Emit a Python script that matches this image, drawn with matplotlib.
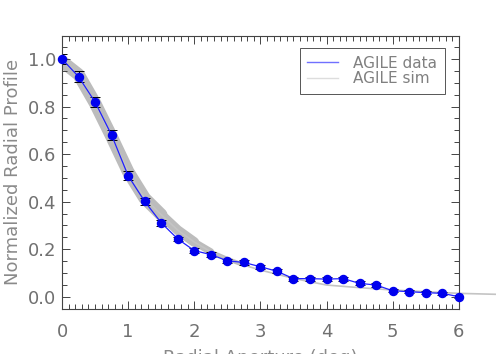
import matplotlib
matplotlib.use("Agg")
import matplotlib.pyplot as plt
import numpy as np
from matplotlib.ticker import MultipleLocator
from matplotlib.lines import Line2D

# Data
x_data = [0.0, 0.25, 0.5, 0.75, 1.0, 1.25, 1.5, 1.75, 2.0, 2.25, 2.5, 2.75,
          3.0, 3.25, 3.5, 3.75, 4.0, 4.25, 4.5, 4.75, 5.0, 5.25, 5.5, 5.75, 6.0]
y_data = [1.0, 0.926, 0.819, 0.680, 0.509, 0.401, 0.311, 0.243, 0.194, 0.177, 0.151, 0.144,
          0.126, 0.107, 0.076, 0.076, 0.074, 0.076, 0.056, 0.049, 0.025, 0.021, 0.017, 0.014, 0.0]
y_err = [0.02, 0.022, 0.022, 0.022, 0.018, 0.014, 0.012, 0.01, 0.01, 0.01, 0.009, 0.009,
         0.009, 0.009, 0.008, 0.008, 0.008, 0.008, 0.008, 0.008, 0.007, 0.007, 0.007, 0.007, 0.007]

x_sim = [0.0, 0.25, 0.5, 0.75, 1.0, 1.25, 1.5, 1.75, 2.0, 2.25, 2.5, 2.75,
         3.0, 3.5, 4.0, 4.5, 5.0, 5.5, 6.0, 6.56]
y_sim = [0.99, 0.935, 0.814, 0.673, 0.526, 0.414, 0.345, 0.28, 0.23, 0.189, 0.159, 0.133,
         0.112, 0.077, 0.049, 0.038, 0.028, 0.021, 0.014, 0.010]

x_ticks = [0, 1, 2, 3, 4, 5, 6]
y_ticks = [0.0, 0.2, 0.4, 0.6, 0.8, 1.0]

fig = plt.figure(figsize=(4.96, 3.54), dpi=100)
ax = fig.add_axes([0.125, 0.127, 0.8, 0.772])

band = '#bcbcbc'
for n, w in [(7, 9), (9, 7), (10, 5), (12, 3)]:
    ax.plot(x_sim[:n], y_sim[:n], color=band, lw=w, solid_joinstyle='round',
            solid_capstyle='round', zorder=1)
ax.plot(x_sim, y_sim, color='#c4c4c4', lw=1.2, clip_on=False, zorder=1)

ax.errorbar(x_data, y_data, yerr=y_err, fmt='none', ecolor='black', elinewidth=0.7,
            capsize=3.5, capthick=0.7, zorder=2)
ax.plot(x_data, y_data, color='#2020ff', lw=0.9, marker='o', markersize=5.8,
        markerfacecolor='#0000ee', markeredgecolor='#0000ee', zorder=3, clip_on=False)

ax.set_xlim(0, 6)
ax.set_ylim(-0.052, 1.098)
ax.set_xticks(x_ticks)
ax.set_yticks(y_ticks)
ax.set_xticklabels([str(t) for t in x_ticks])
ax.set_yticklabels([f"{t:.1f}" for t in y_ticks])
ax.xaxis.set_minor_locator(MultipleLocator(0.1))
ax.yaxis.set_minor_locator(MultipleLocator(0.05))
ax.tick_params(which='both', direction='in', top=True, right=True, color='#444444',
               labelcolor='#707070', labelsize=13, width=0.7)
ax.tick_params(which='major', length=6)
ax.tick_params(which='minor', length=3.5)
ax.tick_params(axis='x', which='major', pad=10)
ax.tick_params(axis='y', which='major', pad=4)
for s in ax.spines.values():
    s.set_color('#444444'); s.set_linewidth(0.8)

ax.set_ylabel('Normalized Radial Profile', color='#8a8a8a', fontsize=13, labelpad=4)
ax.set_xlabel('Radial Aperture (deg)', color='#8a8a8a', fontsize=13, labelpad=6)

handles = [Line2D([], [], color='#7070ff', lw=1), Line2D([], [], color='#dddddd', lw=1)]
leg = ax.legend(handles, ['AGILE data', 'AGILE sim'], loc='upper right',
                bbox_to_anchor=(0.965, 0.955), fancybox=False, framealpha=1,
                edgecolor='#555555', fontsize=11, labelcolor='#808080',
                handlelength=2.0, handletextpad=1.0, borderpad=0.5, labelspacing=0.05,
                borderaxespad=0)
leg.get_frame().set_linewidth(0.7)

fig.savefig('out.png', dpi=100)
